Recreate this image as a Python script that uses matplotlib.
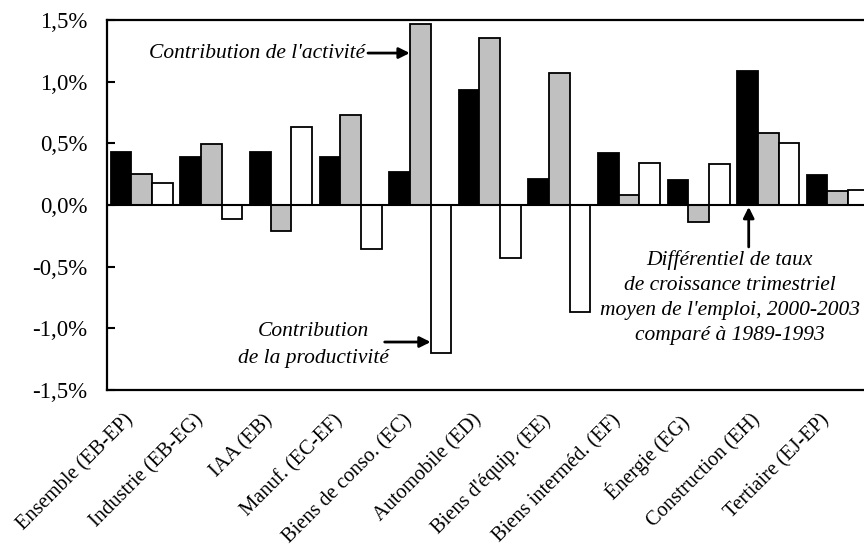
import matplotlib
matplotlib.use("Agg")
import matplotlib.pyplot as plt
import matplotlib.transforms as mtransforms
import numpy as np

categories = ["Ensemble (EB-EP)", "Industrie (EB-EG)", "IAA (EB)", "Manuf. (EC-EF)",
              "Biens de conso. (EC)", "Automobile (ED)", "Biens d'équip. (EE)",
              "Biens interméd. (EF)", "Énergie (EG)", "Construction (EH)", "Tertiaire (EJ-EP)"]
differentiel = [0.43, 0.39, 0.43, 0.387, 0.27, 0.93, 0.208, 0.42, 0.205, 1.089, 0.243]
activite = [0.254, 0.495, -0.208, 0.732, 1.468, 1.351, 1.068, 0.081, -0.135, 0.581, 0.114]
productivite = [0.178, -0.114, 0.63, -0.354, -1.203, -0.427, -0.865, 0.338, 0.332, 0.50, 0.124]
yticks = [-1.5, -1.0, -0.5, 0.0, 0.5, 1.0, 1.5]
ytick_labels = ["-1,5%", "-1,0%", "-0,5%", "0,0%", "0,5%", "1,0%", "1,5%"]

plt.rcParams['font.family'] = ['Liberation Serif', 'DejaVu Serif']

fig = plt.figure(figsize=(8.64, 5.54), dpi=100)
ax = fig.add_axes([107/864, 1 - 390/554, (872.6 - 107)/864, 370/554])

x = np.arange(len(categories))
w = 0.296
ew = 1.3
ax.bar(x - w, differentiel, w, color='black', edgecolor='black', linewidth=ew, zorder=2)
ax.bar(x, activite, w, color='#c0c0c0', edgecolor='black', linewidth=ew, zorder=2)
ax.bar(x + w, productivite, w, color='white', edgecolor='black', linewidth=ew, zorder=2)
ax.axhline(0, color='black', linewidth=1.5, zorder=3)

ax.set_xlim(-0.5, len(categories) - 0.5)
ax.set_ylim(-1.5, 1.5)
ax.set_yticks(yticks)
ax.set_yticklabels(ytick_labels, fontsize=16.5)
ax.tick_params(axis='y', direction='in', length=6, width=1.5, pad=14)
ax.set_xticks(x)
ax.set_xticklabels(categories, rotation=45, ha='right', va='top', fontsize=14.8)
ax.tick_params(axis='x', length=0, pad=15)
offset = mtransforms.ScaledTranslation(-4/100, 0, fig.dpi_scale_trans)
for lab in ax.get_xticklabels():
    lab.set_transform(lab.get_transform() + offset)
for s in ['top', 'left', 'bottom']:
    ax.spines[s].set_linewidth(1.6)
ax.spines['right'].set_visible(False)

arrow = dict(arrowstyle='-|>', lw=2, color='black', mutation_scale=16, shrinkA=0, shrinkB=0)
ax.annotate("", xy=(3.85, 1.232), xytext=(3.25, 1.232), arrowprops=arrow)
ax.text(3.21, 1.232, "Contribution de l'activité", ha='right', va='center',
        style='italic', fontsize=15.5)

ax.annotate("", xy=(4.15, -1.111), xytext=(3.49, -1.111), arrowprops=arrow)
ax.text(2.46, -1.135, "Contribution\nde la productivité", ha='center', va='center',
        style='italic', fontsize=15.5, linespacing=1.55)

ax.annotate("", xy=(8.72, -0.016), xytext=(8.72, -0.34), arrowprops=arrow)
ax.text(8.45, -0.75, "Différentiel de taux\nde croissance trimestriel\nmoyen de l'emploi, 2000-2003\ncomparé à 1989-1993",
        ha='center', va='center', style='italic', fontsize=15.5, linespacing=1.45)

fig.savefig("out.png", dpi=100)
